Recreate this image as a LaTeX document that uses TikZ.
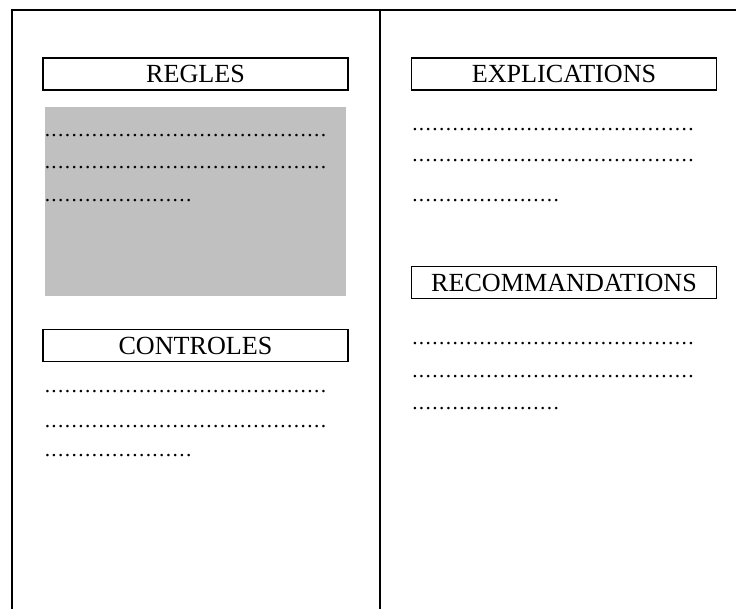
\documentclass[tikz,border=0pt]{standalone}
\usepackage{fontspec}
\setmainfont{Liberation Serif}
\definecolor{fondgris}{RGB}{192,192,192}
\newcommand{\pointilles}[1]{\foreach \k in {1,...,#1}{.\kern1.05pt}}
\tikzset{
	cadre/.style={line width=1.5pt},
	titre/.style={draw, line width=1.2pt, minimum width=228.5pt, minimum height=24pt, inner sep=0pt, font=\fontsize{19.6}{23}\selectfont},
	ligne/.style={anchor=base west, inner sep=0pt, font=\fontsize{16}{19}\selectfont}
}

\begin{document}
\begin{tikzpicture}[x=0.75pt, y=-0.75pt]
			%%%%% START %%%%%
			\useasboundingbox (0, 0) rectangle (736, 609);
			
			\draw[cadre] (736, 10) -- (12, 10) -- (12, 609);
			\draw[cadre] (380, 10) -- (380, 609);
			
			\node[titre] (regles) at (195.5, 74) {REGLES};
			\fill[fondgris] (45, 107) rectangle (346, 296);
			\node[ligne] (regles1) at (44.5, 137) {\pointilles{42}};
			\node[ligne] (regles2) at (44.5, 169) {\pointilles{42}};
			\node[ligne] (regles3) at (44.5, 202) {\pointilles{22}};
			
			\node[titre] (controles) at (195.5, 345.5) {CONTROLES};
			\node[ligne] (controles1) at (44.5, 393) {\pointilles{42}};
			\node[ligne] (controles2) at (44.5, 428) {\pointilles{42}};
			\node[ligne] (controles3) at (44.5, 457) {\pointilles{22}};
			
			\node[titre] (explications) at (564, 74) {EXPLICATIONS};
			\node[ligne] (explications1) at (412, 131) {\pointilles{42}};
			\node[ligne] (explications2) at (412, 162) {\pointilles{42}};
			\node[ligne] (explications3) at (412, 202) {\pointilles{22}};
			
			\node[titre] (recommandations) at (564, 282.5) {RECOMMANDATIONS};
			\node[ligne] (recommandations1) at (412, 345) {\pointilles{42}};
			\node[ligne] (recommandations2) at (412, 378) {\pointilles{42}};
			\node[ligne] (recommandations3) at (412, 410) {\pointilles{22}};
			
			%%%%% END %%%%%
\end{tikzpicture}
\end{document}
